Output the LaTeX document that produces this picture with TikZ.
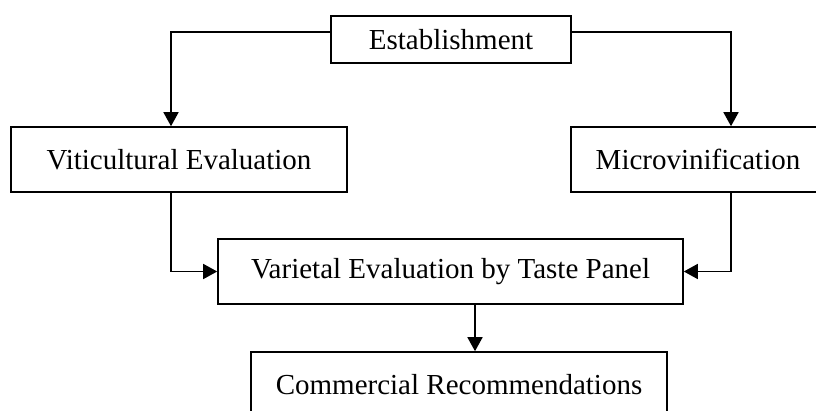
\documentclass[tikz,border=0pt]{standalone}
\usepackage{fontspec}
\setmainfont{Liberation Serif}
\usetikzlibrary{arrows.meta,positioning}
\tikzset{
  basic/.style  = {draw, line width=1.6pt, rectangle, inner sep=0pt, align=center, font=\fontsize{29}{34}\selectfont},
  top/.style    = {basic, minimum width=240pt, minimum height=47pt},
  level 2/.style = {basic, minimum height=65pt},
  level 3/.style = {basic, minimum height=65pt},
  link/.style   = {->, line width=1.6pt}
}
\begin{document}
\begin{tikzpicture}[x=1pt, y=-1pt,
  >={Triangle[length=14pt,width=15pt]}]
\useasboundingbox (0,0) rectangle (816,410);

% top of the chart
\node[top] (est) at (451,39.5) {Establishment};

% the two branches
\node[level 2, minimum width=336pt] (viti) at (179,159.5) {Viticultural Evaluation};
\node[level 2, minimum width=254pt] (micro) at (698,159.5) {Microvinification};

% the lower level
\node[level 3, minimum width=465pt] (vari) at (450.5,271.5) {Varietal Evaluation by Taste Panel};
\node[level 3, minimum width=416pt] (comm) at (459,384.5) {Commercial Recommendations};

% connectors
\draw[link] ([yshift=7.5pt]est.west) -| ([xshift=-8pt]viti.north);
\draw[link] ([yshift=7.5pt]est.east) -| ([xshift=33pt]micro.north);
\draw[link] ([xshift=-8pt]viti.south) |- (vari.west);
\draw[link] ([xshift=33pt]micro.south) |- (vari.east);
\draw[link] ([xshift=24.5pt]vari.south) -- ([xshift=24.5pt]vari.south |- comm.north);
\end{tikzpicture}
\end{document}
